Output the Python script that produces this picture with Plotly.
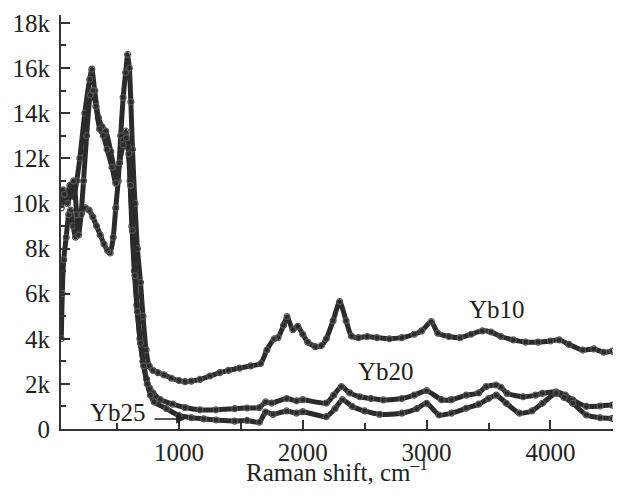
import plotly.graph_objects as go

# ---- data ----
yb10_x = [50, 58, 70, 90, 110, 125, 145, 165, 185, 215, 245, 275, 305, 335, 365, 395, 425, 445, 470, 490,
          510, 530, 550, 570, 586, 600, 612, 625, 645, 665, 690, 710, 735, 760, 790, 830, 880, 940, 1000, 1050,
          1100, 1170, 1250, 1330, 1400, 1490, 1580, 1660, 1710, 1770, 1800, 1845, 1873, 1920, 1960, 2000, 2040,
          2100, 2150, 2190, 2245, 2298, 2350, 2393, 2450, 2520, 2600, 2700, 2800, 2900, 2960, 3038, 3090, 3180,
          3270, 3360, 3450, 3520, 3600, 3700, 3800, 3900, 4000, 4070, 4150, 4260, 4350, 4430, 4500]
yb10_y = [4.0, 6.0, 7.5, 8.5, 9.5, 9.7, 9.0, 8.5, 9.0, 9.6, 9.8, 9.7, 9.4, 9.0, 8.6, 8.2, 7.9, 7.8, 8.5, 9.8,
          11.0, 13.0, 14.7, 15.8, 16.6, 16.0, 14.5, 12.4, 10.0, 8.0, 6.5, 5.0, 3.5, 2.8, 2.6, 2.5, 2.4, 2.25, 2.15, 2.1,
          2.12, 2.2, 2.35, 2.5, 2.6, 2.7, 2.8, 2.9, 3.5, 4.0, 4.05, 4.6, 4.98, 4.4, 4.55, 4.2, 3.85,
          3.65, 3.7, 4.0, 4.8, 5.65, 4.8, 4.12, 4.05, 4.1, 4.05, 4.0, 4.05, 4.2, 4.35, 4.76, 4.25, 4.1,
          4.05, 4.2, 4.35, 4.3, 4.1, 3.95, 3.85, 3.85, 3.9, 3.95, 3.75, 3.5, 3.55, 3.4, 3.45]

yb20_x = [50, 65, 90, 120, 150, 175, 200, 240, 280, 297, 320, 350, 380, 410, 450, 480, 495, 520, 550, 572,
          590, 605, 620, 640, 660, 685, 710, 740, 765, 790, 850, 950, 1050, 1170, 1300, 1450, 1550, 1650, 1700,
          1750, 1870, 1950, 2000, 2190, 2250, 2312, 2380, 2460, 2550, 2650, 2800, 2900, 3000, 3120, 3200, 3320,
          3420, 3480, 3560, 3600, 3650, 3780, 3880, 3935, 4046, 4120, 4180, 4290, 4400, 4500]
yb20_y = [10.3, 10.6, 10.2, 10.8, 10.3, 11.0, 12.0, 14.0, 15.5, 15.95, 15.0, 13.8, 13.4, 13.2, 12.3, 11.4, 11.0, 11.8, 12.8, 13.2,
          12.5, 11.0, 9.0, 7.0, 5.5, 4.0, 3.0, 2.2, 1.8, 1.6, 1.3, 1.1, 0.95, 0.85, 0.85, 0.9, 0.93, 0.95, 1.2,
          1.15, 1.35, 1.25, 1.3, 1.15, 1.5, 1.88, 1.6, 1.43, 1.35, 1.29, 1.35, 1.5, 1.7, 1.3, 1.3, 1.5,
          1.6, 1.88, 1.95, 1.85, 1.58, 1.43, 1.5, 1.58, 1.65, 1.5, 1.29, 1.0, 1.02, 1.06]

yb25_x = [50, 75, 100, 150, 175, 190, 210, 230, 255, 285, 305, 330, 360, 390, 420, 460, 490, 520, 550, 575,
          595, 610, 625, 645, 665, 690, 715, 745, 770, 800, 900, 1000, 1100, 1200, 1300, 1450, 1550, 1650, 1700,
          1760, 1870, 1950, 2000, 2190, 2260, 2320, 2400, 2500, 2620, 2800, 2920, 3000, 3100, 3200, 3320, 3420,
          3500, 3562, 3643, 3750, 3850, 3935, 4046, 4110, 4180, 4290, 4400, 4500]
yb25_y = [9.8, 10.4, 10.0, 11.0, 9.5, 8.6, 9.5, 11.0, 13.0, 14.8, 15.0, 14.3, 13.3, 13.0, 12.4, 11.6, 10.9, 11.8, 12.6, 12.9,
          12.2, 10.8, 8.8, 6.8, 5.2, 3.8, 2.8, 2.0, 1.5, 1.2, 0.9, 0.6, 0.5, 0.45, 0.4, 0.35, 0.38, 0.3, 0.75,
          0.65, 0.8, 0.7, 0.77, 0.55, 0.9, 1.3, 1.0, 0.8, 0.65, 0.7, 0.9, 1.14, 0.62, 0.7, 0.92, 1.1,
          1.35, 1.5, 1.14, 0.7, 0.8, 1.14, 1.58, 1.4, 1.14, 0.62, 0.5, 0.47]

series = [("Yb10", yb10_x, yb10_y), ("Yb20", yb20_x, yb20_y), ("Yb25", yb25_x, yb25_y)]

y_tickvals = [0, 2, 4, 6, 8, 10, 12, 14, 16, 18]
y_ticktext = ["0", "2k", "4k", "6k", "8k", "10k", "12k", "14k", "16k", "18k"]
x_tickvals = [1000, 2000, 3000, 4000]
x_ticktext = ["1000", "2000", "3000", "4000"]

FONT = "Liberation Serif, Times New Roman, serif"
INK = "#2b2b2b"

fig = go.Figure()
for name, xs, ys in series:
    fig.add_trace(go.Scatter(
        x=xs, y=ys, name=name, mode="lines+markers",
        line=dict(color=INK, width=5, shape="spline", smoothing=0.6),
        marker=dict(symbol="circle-open", size=6, color="#555", line=dict(width=1.2)),
        showlegend=False, hoverinfo="skip"))

fig.update_layout(
    width=618, height=497,
    margin=dict(l=61, r=5, t=15, b=68),
    paper_bgcolor="white", plot_bgcolor="white",
    font=dict(family=FONT, size=25, color="#222"),
    xaxis=dict(range=[48, 4505], showgrid=False, zeroline=False,
               showline=True, linecolor="#333", linewidth=2,
               ticks="inside", ticklen=9, tickwidth=1.5, tickcolor="#333",
               tickvals=x_tickvals, ticktext=x_ticktext,
               minor=dict(dtick=500, tick0=0, ticks="inside", ticklen=6, tickwidth=1.5, tickcolor="#333")),
    yaxis=dict(range=[0, 18.35], showgrid=False, zeroline=False,
               showline=True, linecolor="#333", linewidth=2,
               ticks="inside", ticklen=9, tickwidth=1.5, tickcolor="#333",
               tickvals=y_tickvals, ticktext=y_ticktext, ticklabelstandoff=4,
               minor=dict(dtick=1, tick0=0, ticks="inside", ticklen=5, tickwidth=1.5, tickcolor="#333")),
)

# axis title placed as an annotation to match the reference position
fig.add_annotation(x=0.5, y=-0.1, xref="paper", yref="paper", yanchor="middle",
                   text="Raman shift, cm<sup>–1</sup>", showarrow=False, font=dict(size=25))

fig.add_annotation(x=3570, y=5.3, text="Yb10", showarrow=False, font=dict(size=25), xref="x", yref="y")
fig.add_annotation(x=2670, y=2.55, text="Yb20", showarrow=False, font=dict(size=25), xref="x", yref="y")
fig.add_annotation(x=510, y=0.72, text="Yb25", showarrow=False, font=dict(size=25), xref="x", yref="y")
fig.add_annotation(x=1050, y=0.44, ax=790, ay=0.44, axref="x", ayref="y", xref="x", yref="y",
                   text="", showarrow=True, arrowhead=2, arrowsize=1.2, arrowwidth=1.5, arrowcolor="#222")

fig.write_html("out.html")
